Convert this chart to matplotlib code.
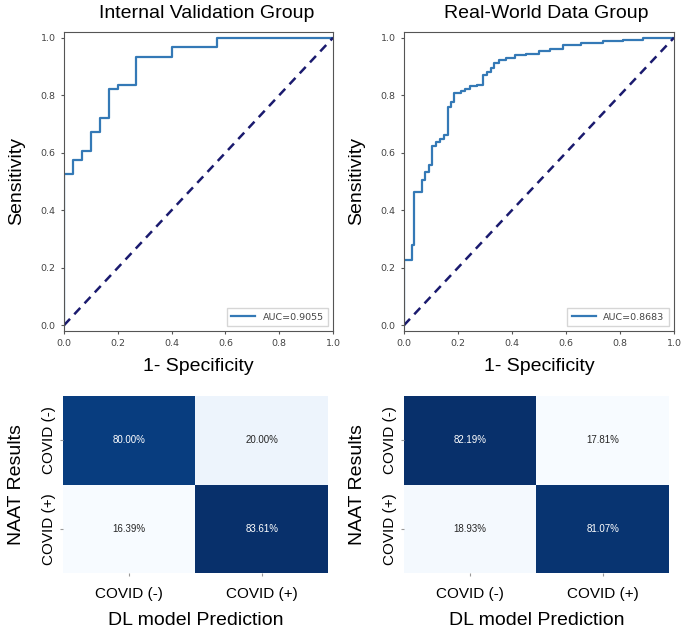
import numpy as np
import matplotlib
matplotlib.use('Agg')
import matplotlib.pyplot as plt
import seaborn as sns

# ROC curves (step corners)
int_fpr = [0, 0, 0.033, 0.067, 0.1, 0.133, 0.167, 0.2, 0.267, 0.4, 0.567, 1.0]
int_tpr = [0, 0.525, 0.574, 0.607, 0.672, 0.721, 0.820, 0.836, 0.934, 0.967, 1.0, 1.0]
int_auc = 0.9055

rw_fpr = [0, 0, 0.028, 0.038, 0.065, 0.078, 0.092, 0.104, 0.119, 0.134, 0.147, 0.162,
          0.175, 0.187, 0.212, 0.227, 0.243, 0.27, 0.294, 0.307, 0.323, 0.335, 0.351,
          0.378, 0.411, 0.453, 0.502, 0.54, 0.59, 0.656, 0.736, 0.81, 0.884, 1.0]
rw_tpr = [0, 0.227, 0.28, 0.462, 0.506, 0.534, 0.557, 0.625, 0.637, 0.649, 0.663, 0.759,
          0.775, 0.809, 0.815, 0.822, 0.831, 0.837, 0.872, 0.879, 0.895, 0.912, 0.921,
          0.93, 0.939, 0.945, 0.954, 0.962, 0.973, 0.982, 0.987, 0.993, 1.0, 1.0]
rw_auc = 0.8683

# confusion matrices (row-normalised, %)
int_cm = [[80.00, 20.00], [16.39, 83.61]]
rw_cm = [[82.19, 17.81], [18.93, 81.07]]
classes = ['COVID (-)', 'COVID (+)']
titles = ['Internal Validation Group', 'Real-World Data Group']

big = 'Liberation Sans'
fig = plt.figure(figsize=(6.84, 6.29), dpi=100)

roc_axes = [fig.add_axes([0.0936, 0.4738, 0.3933, 0.4754]),
            fig.add_axes([0.5906, 0.4738, 0.3947, 0.4754])]
cm_axes = [fig.add_axes([0.0921, 0.089, 0.3874, 0.2814]),
           fig.add_axes([0.5906, 0.089, 0.3874, 0.2814])]

rocs = [(int_fpr, int_tpr, int_auc), (rw_fpr, rw_tpr, rw_auc)]
for ax, (fpr, tpr, auc), title, tx in zip(roc_axes, rocs, titles, [0.53, 0.526]):
    ax.plot(fpr, tpr, drawstyle='steps-post', color='#3479b6', lw=1.6,
            label='AUC=%.4f' % auc)
    ax.plot([0, 1], [0, 1], color='#1a1a6e', lw=1.8, ls=(0, (3.5, 2.5)))
    ax.set_xlim(0, 1)
    ax.set_ylim(-0.02, 1.02)
    ax.set_xticks(np.arange(0, 1.01, 0.2))
    ax.set_yticks(np.arange(0, 1.01, 0.2))
    ax.tick_params(labelsize=6.8, labelcolor='#444444', length=2.5, color='#555555')
    for s in ax.spines.values():
        s.set_color('#555555')
    ax.set_title(title, fontsize=14, family=big, x=tx, pad=10)
    ax.set_xlabel('1- Specificity', fontsize=14, family=big, labelpad=7)
    ax.set_ylabel('Sensitivity', fontsize=14, family=big, labelpad=11)
    leg = ax.legend(loc='lower right', fontsize=6.8, handlelength=2.5,
                    fancybox=False, borderpad=0.5)
    for t in leg.get_texts():
        t.set_color('#444444')

for ax, cm in zip(cm_axes, [int_cm, rw_cm]):
    cm = np.array(cm)
    labels = np.array([['%.2f%%' % v for v in row] for row in cm])
    sns.heatmap(cm, annot=labels, fmt='', cmap='Blues', cbar=False, ax=ax,
                annot_kws={'fontsize': 7, 'family': big})
    ax.set_xticklabels(classes, fontsize=11, family=big)
    ax.set_yticklabels(classes, fontsize=11, family=big, rotation=90, va='center')
    ax.tick_params(axis='x', length=2, color='#999999', pad=8)
    ax.tick_params(axis='y', length=2, color='#999999', pad=3)
    ax.set_xlabel('DL model Prediction', fontsize=14, family=big, labelpad=8)
    ax.set_ylabel('NAAT Results', fontsize=14, family=big, labelpad=12)

fig.savefig('out.png', dpi=100)
